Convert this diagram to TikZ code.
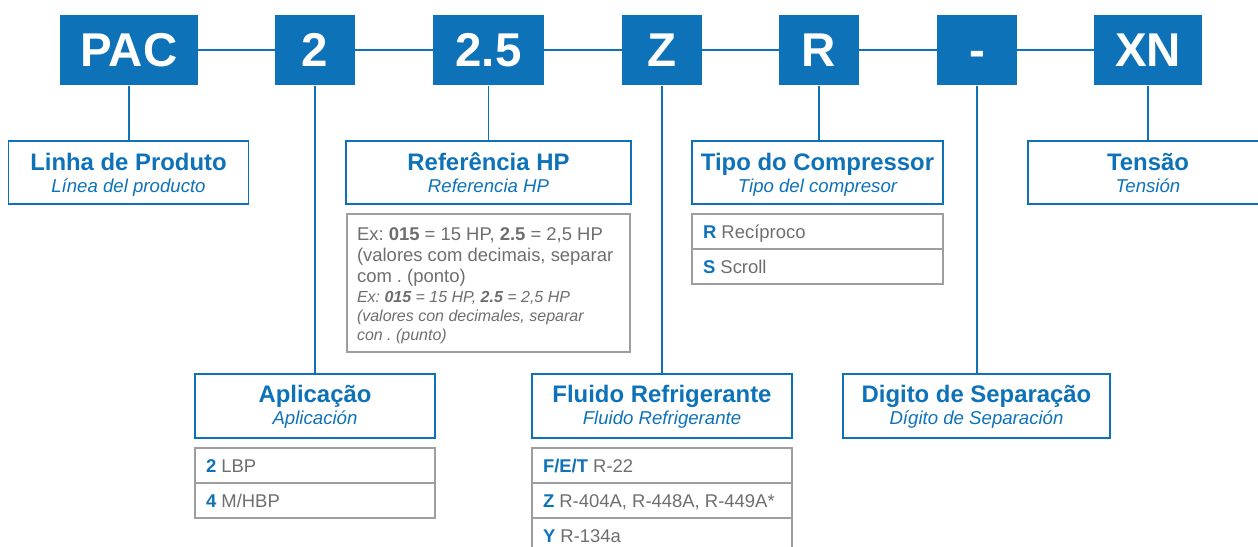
\documentclass[tikz,border=0pt]{standalone}
\usepackage{fontspec}
\setmainfont{Liberation Sans}
\usetikzlibrary{positioning}
\definecolor{pacblue}{RGB}{14,114,185}
\definecolor{framegray}{RGB}{158,158,158}
\definecolor{txtgray}{RGB}{110,110,110}
\newcommand{\twolang}[2]{{\fontsize{13.6}{12.5}\selectfont\bfseries #1}\\{\itshape #2}}
\newcommand{\key}[1]{\textcolor{pacblue}{\bfseries #1}}

\begin{document}
\begin{tikzpicture}[x=0.02cm,y=-0.02cm,
  codebox/.style={fill=pacblue,text=white,minimum height=1.42cm,inner sep=0pt,
    text height=19.3pt,text depth=0pt,font=\fontsize{27}{27}\selectfont\bfseries},
  namebox/.style={draw=pacblue,fill=white,line width=0.75pt,minimum height=1.26cm,
    inner sep=0pt,align=center,text=pacblue,text height=23.2pt,text depth=0pt,
    font=\fontsize{10.6}{12.5}\selectfont\frenchspacing},
  lowbox/.style={namebox,minimum height=1.28cm,text height=21.5pt},
  optrow/.style={draw=framegray,line width=0.7pt,minimum height=0.7cm,outer sep=0pt,
    inner xsep=0.22cm,inner ysep=0pt,text width=#1,align=flush left,text=txtgray,
    text height=7.7pt,text depth=0pt,font=\fontsize{10.5}{12}\selectfont\frenchspacing},
  link/.style={pacblue,line width=1.1pt}]
\useasboundingbox (0,0) rectangle (1258,547);
\clip (0,0) rectangle (1258,547);

\node[codebox,minimum width=2.76cm] (PAC) at (129,50) {PAC};
\node[codebox,minimum width=1.6cm] (C2) at (315,50) {2};
\node[codebox,minimum width=2.22cm] (C25) at (488.5,50) {2.5};
\node[codebox,minimum width=1.6cm] (CZ) at (662,50) {Z};
\node[codebox,minimum width=1.6cm] (CR) at (819,50) {R};
\node[codebox,minimum width=1.6cm] (Csep) at (977,50) {-};
\node[codebox,minimum width=2.16cm] (CXN) at (1148,50) {XN};

\draw[link] (PAC) -- (C2) -- (C25) -- (CZ) -- (CR) -- (Csep) -- (CXN);

\node[namebox,minimum width=4.8cm] (linha) at (128.5,172.5) {\twolang{Linha de Produto}{Línea del producto}};
\node[namebox,minimum width=5.7cm] (refhp) at (488.5,172.5) {\twolang{Referência HP}{Referencia HP}};
\node[namebox,minimum width=5.02cm] (tipo) at (817.5,172.5) {\twolang{Tipo do Compressor}{Tipo del compresor}};
\node[namebox,minimum width=4.8cm] (tensao) at (1148,172.5) {\twolang{Tensão}{Tensión}};
\node[lowbox,minimum width=4.8cm] (aplic) at (315,406) {\twolang{Aplicação}{Aplicación}};
\node[lowbox,minimum width=5.2cm] (fluido) at (662,406) {\twolang{Fluido Refrigerante}{Fluido Refrigerante}};
\node[lowbox,minimum width=5.34cm] (digito) at (976.5,406) {\twolang{Digito de Separação}{Dígito de Separación}};

\draw[link] (PAC) -- (PAC |- linha.north);
\draw[link] (C2) -- (C2 |- aplic.north);
\draw[link] (C25) -- (C25 |- refhp.north);
\draw[link] (CZ) -- (CZ |- fluido.north);
\draw[link] (CR) -- (CR |- tipo.north);
\draw[link] (Csep) -- (Csep |- digito.north);
\draw[link] (CXN) -- (CXN |- tensao.north);

\node[optrow=5.26cm,inner xsep=0.2cm,minimum height=2.76cm,anchor=north,
  text height=14.7pt,text depth=63.5pt,font=\fontsize{10.5}{12.2}\selectfont\frenchspacing] (exhp) at (488.5,214) {%
  Ex: \textbf{015} = 15 HP, \textbf{2.5} = 2,5 HP\\
  (valores com decimais, separar\\
  com . (ponto)\\[-0.9pt]
  {\fontsize{9.1}{10.8}\selectfont\itshape Ex: \textbf{015} = 15 HP, \textbf{2.5} = 2,5 HP}\\[-1.4pt]
  {\fontsize{9.1}{10.8}\selectfont\itshape (valores con decimales, separar}\\[-1.4pt]
  {\fontsize{9.1}{10.8}\selectfont\itshape con . (punto)}};

\node[optrow=4.58cm,text height=8.5pt,anchor=north] (tR) at (817.5,214) {\key{R} Recíproco};
\node[optrow=4.58cm,text height=8.5pt,below=0pt of tR] (tS) {\key{S} Scroll};

\node[optrow=4.36cm,anchor=north] (a2) at (315,448) {\key{2} LBP};
\node[optrow=4.36cm,below=0pt of a2] (a4) {\key{4} M/HBP};

\node[optrow=4.76cm,anchor=north] (fF) at (662,448) {\key{F/E/T} R-22};
\node[optrow=4.76cm,below=0pt of fF] (fZ) {\key{Z} R-404A, R-448A, R-449A*};
\node[optrow=4.76cm,below=0pt of fZ] (fY) {\key{Y} R-134a};
\end{tikzpicture}
\end{document}
